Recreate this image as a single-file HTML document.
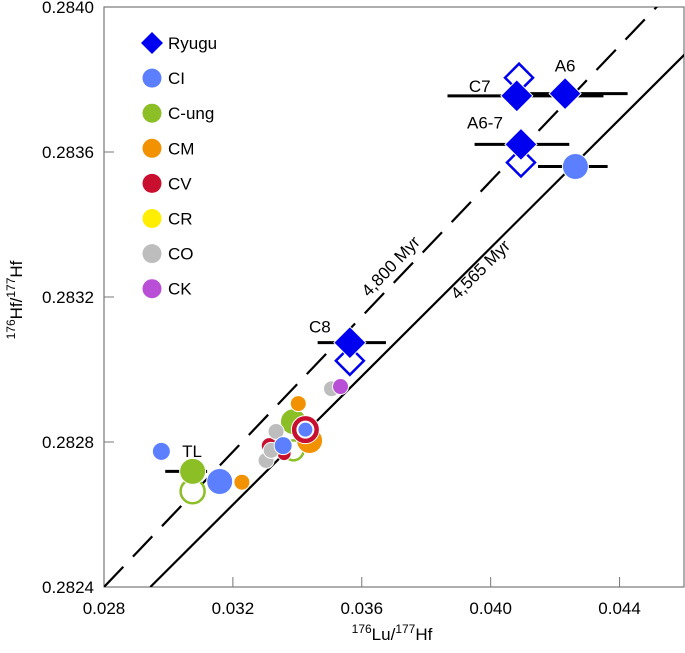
<!DOCTYPE html>
<html><head><meta charset="utf-8"><style>
body{margin:0;background:#fff;}
svg text{font-family:"Liberation Sans",sans-serif;}
</style></head><body>
<svg id="chart" width="685" height="648" xmlns="http://www.w3.org/2000/svg">
<g id="axes"></g><g id="lines"></g><g id="marks"></g><g id="legend"></g>
</svg>
<script>
const xTicks=[0.028,0.032,0.036,0.040,0.044];
const yTicks=[0.2824,0.2828,0.2832,0.2836,0.2840];
const xTickLabels=["0.028","0.032","0.036","0.040","0.044"];
const yTickLabels=["0.2824","0.2828","0.2832","0.2836","0.2840"];
const isoNames=["4,565 Myr","4,800 Myr"];
const isoX0=[0.029438,0.028];
const isoY0=[0.2824,0.2824];
const isoSlope=[0.0886,0.0933];
// Ryugu
const ryLabels=["C7","A6","A6-7","C8"];
const ryX=[0.04081,0.04231,0.04094,0.03563];
const ryY=[0.283755,0.283761,0.283621,0.283074];
const ryXErrLo=[0.03866,0.04116,0.0395,0.03463];
const ryXErrHi=[0.0435,0.04425,0.04244,0.03675];
const ryOpenX=[0.04088,0.04094,0.03563];
const ryOpenY=[0.283805,0.283571,0.283024];
// chondrites
const chGroup=["CI","CI","CI","CI","C-ung","C-ung","CM","CM","CM","CV","CV","CO","CO","CO","CO","CK","CI","CV"];
const chX=[0.04263,0.02978,0.03159,0.03356,0.03075,0.03388,0.03228,0.03403,0.03438,0.03313,0.03359,0.03303,0.03319,0.03334,0.03506,0.03534,0.03356,0.03425];
const chY=[0.28356,0.282774,0.282691,0.28279,0.282719,0.282856,0.282689,0.282906,0.282804,0.28279,0.282768,0.282749,0.282777,0.282829,0.282947,0.282953,0.28279,0.282834];
const chSize=[13,9,13,9,13,13,8,8,13,8,7,8,8,8,8,8,9,14];
const chOpenGroup=["C-ung","C-ung"];
const chOpenX=[0.03075,0.03388];
const chOpenY=[0.282664,0.282777];
const chOpenSize=[12,10];
const legendNames=["Ryugu","CI","C-ung","CM","CV","CR","CO","CK"];
const colors={"CI":"#5b7fff","C-ung":"#8cbf26","CM":"#f39200","CV":"#c8102e","CR":"#ffee00","CO":"#bdbdbd","CK":"#b94fd6","Ryugu":"#0000f0"};

const X0=104,X1=684,Y0=587,Y1=7;
const sx=v=>X0+(v-0.028)/(0.046-0.028)*(X1-X0);
const sy=v=>Y0-(v-0.2824)/(0.2840-0.2824)*(Y0-Y1);
const NS="http://www.w3.org/2000/svg";
function mk(tag,attrs,parent,text){const e=document.createElementNS(NS,tag);for(const k in attrs)e.setAttribute(k,attrs[k]);if(text!==undefined)e.textContent=text;parent.appendChild(e);return e;}
const axes=document.getElementById('axes'),lines=document.getElementById('lines'),marks=document.getElementById('marks'),leg=document.getElementById('legend');

let fr=mk('rect',{x:X0,y:Y1,width:X1-X0,height:Y0-Y1,fill:'none',stroke:'#777','stroke-width':1.2},axes);


xTicks.forEach((t,i)=>{
  let l=mk('line',{x1:sx(t),x2:sx(t),y1:Y0,y2:Y0-10,stroke:'#777'},axes);
  
  
  let tx=mk('text',{x:sx(t),y:Y0+27,'text-anchor':'middle','font-size':17},axes,xTickLabels[i]);
  
  
});
yTicks.forEach((t,i)=>{
  let l=mk('line',{x1:X0,x2:X0+10,y1:sy(t),y2:sy(t),stroke:'#777'},axes);
  
  
  let tx=mk('text',{x:X0-10,y:sy(t)+6,'text-anchor':'end','font-size':17},axes,yTickLabels[i]);
  
  
});
let xt=mk('text',{x:392,y:640,'text-anchor':'middle','font-size':17},axes);


xt.innerHTML='<tspan font-size="12" dy="-7">176</tspan><tspan dy="7">Lu/</tspan><tspan font-size="12" dy="-7">177</tspan><tspan dy="7">Hf</tspan>';
let yt=mk('text',{x:0,y:0,'text-anchor':'middle','font-size':17,transform:'translate(22,300) rotate(-90)'},axes);


yt.innerHTML='<tspan font-size="12" dy="-7">176</tspan><tspan dy="7">Hf/</tspan><tspan font-size="12" dy="-7">177</tspan><tspan dy="7">Hf</tspan>';

const clip=mk('clipPath',{id:'pc'},mk('defs',{},lines));
mk('rect',{x:X0,y:Y1,width:X1-X0,height:Y0-Y1},clip);
isoNames.forEach((n,i)=>{
  const xa=isoX0[i],xb=0.047;
  const ya=isoY0[i],yb=isoY0[i]+isoSlope[i]*(xb-xa);
  let l=mk('line',{x1:sx(xa),y1:sy(ya),x2:sx(xb),y2:sy(yb),stroke:'#000','stroke-width':2.2,'clip-path':'url(#pc)'},lines);
  if(i===1)l.setAttribute('stroke-dasharray','28 14');
  
  
  const ang=Math.atan2(sy(ya)-sy(yb),sx(xb)-sx(xa))*180/Math.PI;
  const lx=i===0?0.0395:0.0372;
  const px=sx(lx),py=sy(isoY0[i]+isoSlope[i]*(lx-xa));
  const off=i===0?14:-8;
  let t=mk('text',{x:0,y:0,'text-anchor':'middle','font-size':17,transform:`translate(${px+off*0.7},${py+off*0.7}) rotate(${-ang})`},lines,n);
  
  
});

const d=16;
ryLabels.forEach((n,i)=>{
  let l=mk('line',{x1:sx(ryXErrLo[i]),x2:sx(ryXErrHi[i]),y1:sy(ryY[i]),y2:sy(ryY[i]),stroke:'#000','stroke-width':3},marks);
  
  
});
let eb=mk('line',{x1:sx(0.04147),x2:sx(0.04363),y1:sy(chY[0]),y2:sy(chY[0]),stroke:'#000','stroke-width':3},marks);


eb=mk('line',{x1:sx(0.0299),x2:sx(0.0312),y1:sy(chY[4]),y2:sy(chY[4]),stroke:'#000','stroke-width':3},marks);



chOpenX.forEach((v,i)=>{
  let c=mk('circle',{cx:sx(v),cy:sy(chOpenY[i]),r:chOpenSize[i],fill:'#fff',stroke:colors[chOpenGroup[i]],'stroke-width':2.5},marks);
  
  
});
chX.forEach((v,i)=>{
  let c=mk('circle',{cx:sx(v),cy:sy(chY[i]),r:chSize[i],fill:colors[chGroup[i]],stroke:'#fff','stroke-width':1},marks);
  
  
});
{const i=chX.length-1;
let c=mk('circle',{cx:sx(chX[i]),cy:sy(chY[i]),r:8,fill:colors.CI,stroke:'#fff','stroke-width':2},marks);

}

ryOpenX.forEach((v,i)=>{
  const x=sx(v),y=sy(ryOpenY[i]),h=14;
  let p=mk('polygon',{points:`${x},${y-h} ${x+h},${y} ${x},${y+h} ${x-h},${y}`,fill:'#fff',stroke:'#0000f0','stroke-width':2.5},marks);
  
  
});
ryX.forEach((v,i)=>{
  const x=sx(v),y=sy(ryY[i]);
  let p=mk('polygon',{points:`${x},${y-d} ${x+d},${y} ${x},${y+d} ${x-d},${y}`,fill:'#0000f0',stroke:'#fff','stroke-width':1},marks);
  
  
  const lo={C7:[-37,-4],A6:[0,-22],"A6-7":[-36,-16],C8:[-30,-10]}[ryLabels[i]];
  let t=mk('text',{x:x+lo[0],y:y+lo[1],'text-anchor':'middle','font-size':17},marks,ryLabels[i]);
  
  
});
let tl=mk('text',{x:192,y:457,'text-anchor':'middle','font-size':17},marks,'TL');



legendNames.forEach((n,i)=>{
  const y=43+i*35.1,x=152;
  let m;
  if(n==='Ryugu')m=mk('polygon',{points:`${x},${y-11} ${x+11},${y} ${x},${y+11} ${x-11},${y}`,fill:colors[n]},leg);
  else m=mk('circle',{cx:x,cy:y,r:9.5,fill:colors[n]},leg);
  
  
  let t=mk('text',{x:168,y:y+6,'font-size':17},leg,n);
  
  
});
</script>
</body></html>
